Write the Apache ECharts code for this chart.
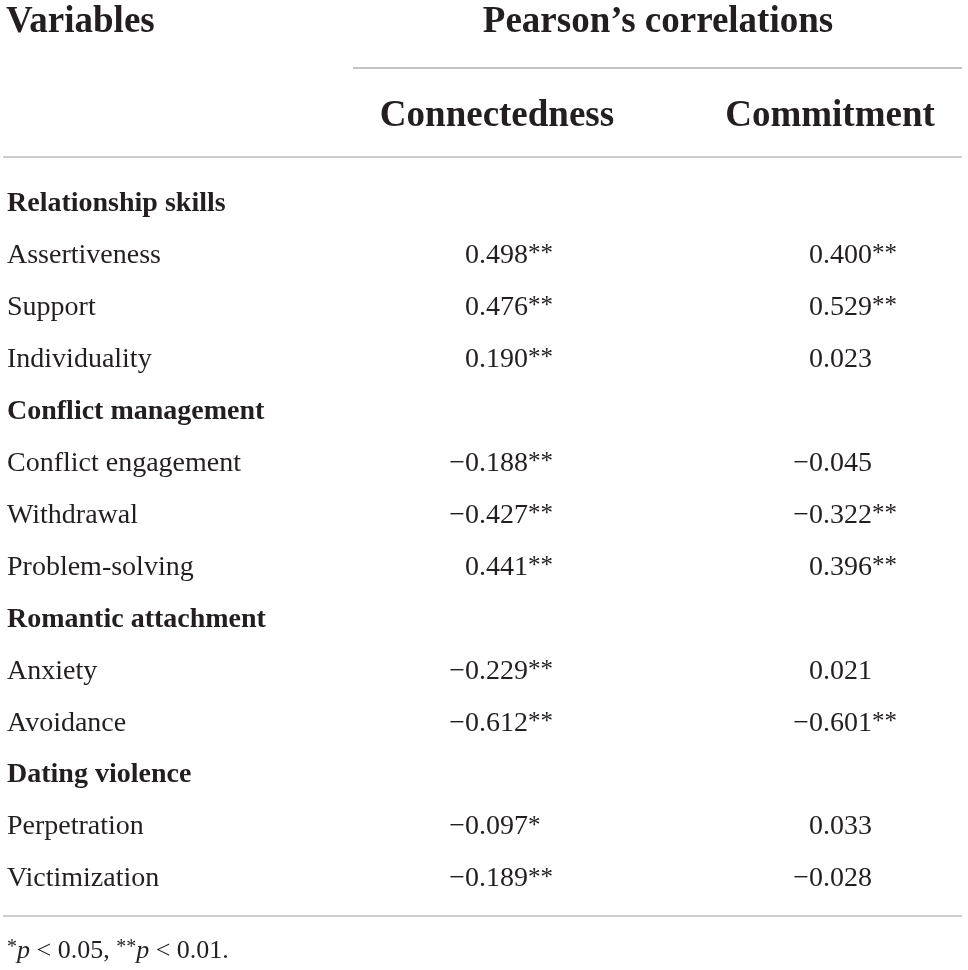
<!DOCTYPE html>
<html>
<head>
<meta charset="utf-8">
<script src="https://cdn.jsdelivr.net/npm/echarts@6/dist/echarts.min.js"></script>
<style>
  html, body { margin: 0; padding: 0; background: #ffffff; }
  #chart { width: 968px; height: 970px; }
</style>
</head>
<body>
<div id="chart"></div>
<script>
"use strict";

/* ---------- table data ---------- */

const rows = [
    "Relationship skills", "Assertiveness", "Support", "Individuality",
    "Conflict management", "Conflict engagement", "Withdrawal", "Problem-solving",
    "Romantic attachment", "Anxiety", "Avoidance",
    "Dating violence", "Perpetration", "Victimization"
];
const headingRows = ["Relationship skills", "Conflict management", "Romantic attachment", "Dating violence"];

const columns = ["Connectedness", "Commitment"];
const connectedness = [null, 0.498, 0.476, 0.190, null, -0.188, -0.427, 0.441, null, -0.229, -0.612, null, -0.097, -0.189];
const connectednessSig = ["", "**", "**", "**", "", "**", "**", "**", "", "**", "**", "", "*", "**"];
const commitment = [null, 0.400, 0.529, 0.023, null, -0.045, -0.322, 0.396, null, 0.021, -0.601, null, 0.033, -0.028];
const commitmentSig = ["", "**", "**", "", "", "", "**", "**", "", "", "**", "", "", ""];

/* ---------- look ---------- */

const INK = "#231f20";
const SERIF = "'Liberation Serif', 'DejaVu Serif', serif";
const BODY = 28;
const HEAD = 37;

// column anchors on the 0..1 x axis (right edge of the number)
const colAnchor = [0.5455, 0.9058];

function fmt(v){
    const s = Math.abs(v).toFixed(3);
    return v < 0 ? "\u2212" + s : s;
}

function numberSeries(values, anchor){
    return {
        type: "scatter",
        symbolSize: 0,
        silent: true,
        itemStyle: { opacity: 1 },
        data: values.map((v, i) => v === null ? null : [anchor, i, v]).filter(Boolean),
        label: {
            show: true,
            position: "left",
            distance: 0,
            opacity: 1,
            color: INK,
            fontFamily: SERIF,
            fontSize: BODY,
            formatter: p => fmt(p.value[2])
        }
    };
}

function starSeries(values, sig, anchor){
    return {
        type: "scatter",
        symbolSize: 0,
        silent: true,
        itemStyle: { opacity: 1 },
        data: values.map((v, i) => (v === null || !sig[i]) ? null : [anchor, i, sig[i]]).filter(Boolean),
        label: {
            show: true,
            position: "right",
            distance: 0,
            offset: [0, -1],
            opacity: 1,
            color: INK,
            fontFamily: SERIF,
            fontSize: 25,
            formatter: p => p.value[2]
        }
    };
}

function headText(text, x, y, align){
    return {
        type: "text",
        x: x, y: y,
        style: {
            text: text,
            fill: INK,
            font: "bold " + HEAD + "px " + SERIF,
            textAlign: align,
            textVerticalAlign: "middle"
        }
    };
}

function rule(x1, x2, y, color, width){
    return {
        type: "line",
        shape: { x1: x1, y1: y, x2: x2, y2: y },
        style: { stroke: color, lineWidth: width }
    };
}

const chart = echarts.init(document.getElementById("chart"));

chart.setOption({
    animation: false,
    backgroundColor: "#ffffff",
    grid: { left: 7, right: 6, top: 178, bottom: 65 },
    xAxis: { type: "value", min: 0, max: 1, show: false },
    yAxis: {
        type: "category",
        inverse: true,
        data: rows,
        axisLine: { show: false },
        axisTick: { show: false },
        splitLine: { show: false },
        axisLabel: {
            interval: 0,
            align: "left",
            margin: 0,
            formatter: v => headingRows.includes(v) ? "{h|" + v + "}" : "{v|" + v + "}",
            rich: {
                h: { fontFamily: SERIF, fontSize: BODY, fontWeight: "bold", color: INK },
                v: { fontFamily: SERIF, fontSize: BODY, color: INK }
            }
        }
    },
    series: [
        numberSeries(connectedness, colAnchor[0]),
        starSeries(connectedness, connectednessSig, colAnchor[0]),
        numberSeries(commitment, colAnchor[1]),
        starSeries(commitment, commitmentSig, colAnchor[1])
    ],
    graphic: [
        headText("Variables", 6, 22, "left"),
        headText("Pearson\u2019s correlations", 658, 22, "center"),
        headText(columns[0], 497, 116, "center"),
        headText(columns[1], 830, 116, "center"),
        rule(353, 962, 68, "#8a8a8a", 1.2),
        rule(3, 962, 157, "#bdbdbd", 1.6),
        rule(3, 962, 916, "#bdbdbd", 1.6),
        {
            type: "text",
            x: 7, y: 951,
            style: {
                text: "{s|*}{i|p} < 0.05, {s|**}{i|p} < 0.01.",
                fill: INK,
                font: "26px " + SERIF,
                textVerticalAlign: "middle",
                rich: {
                    s: { fontFamily: SERIF, fontSize: 20, fill: INK, verticalAlign: "top" },
                    i: { fontFamily: SERIF, fontSize: 26, fontStyle: "italic", fill: INK }
                }
            }
        }
    ]
});
</script>
</body>
</html>
